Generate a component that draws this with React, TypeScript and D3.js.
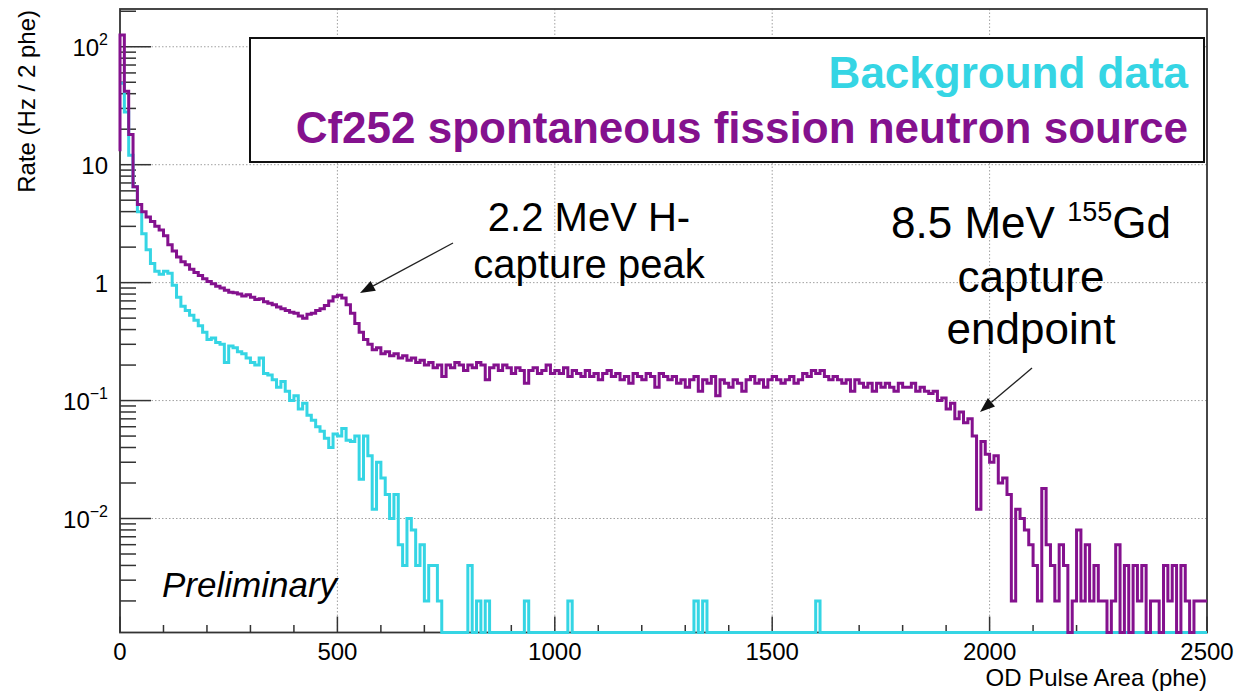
import React from 'react';
import * as d3 from 'd3';

const W = 1239;
const H = 691;

// Axis ranges
const X_DOMAIN = [0, 2500];
const Y_DOMAIN = [1.08e-3, 209];
const BIN_WIDTH = 10;

const xMajorTicks = [0, 500, 1000, 1500, 2000, 2500];
const xTickLabels = ['0', '500', '1000', '1500', '2000', '2500'];
const xGridTicks = [500, 1000, 1500, 2000];
const yMajorTicks = [0.01, 0.1, 1, 10, 100];
const yTickBase = ['10', '10', '1', '10', '10'];
const yTickExp = ['\u22122', '\u22121', '', '', '2'];

// Cf252 source spectrum (rate per 10 phe bin), bins 0..249
const purpleLeadIn = 13;
const purpleValues = [
  126, 42, 18, 6.5, 4.6, 4.0, 3.6, 3.3, 3.0, 2.8,
  2.5, 2.1, 1.85, 1.65, 1.5, 1.42, 1.3, 1.22, 1.15, 1.08,
  1.02, 0.98, 0.93, 0.9, 0.86, 0.83, 0.82, 0.8, 0.77, 0.79,
  0.75, 0.72, 0.73, 0.69, 0.67, 0.65, 0.62, 0.6, 0.58, 0.56,
  0.55, 0.52, 0.5, 0.54, 0.55, 0.58, 0.6, 0.64, 0.7, 0.76,
  0.78, 0.74, 0.65, 0.55, 0.45, 0.38, 0.33, 0.3, 0.27, 0.28,
  0.25, 0.26, 0.24, 0.25, 0.23, 0.24, 0.22, 0.23, 0.21, 0.22,
  0.2, 0.21, 0.19, 0.2, 0.16, 0.2, 0.19, 0.21, 0.2, 0.18,
  0.2, 0.19, 0.21, 0.2, 0.15, 0.19, 0.2, 0.18, 0.2, 0.19,
  0.17, 0.19, 0.18, 0.14, 0.18, 0.19, 0.17, 0.18, 0.2, 0.17,
  0.18, 0.17, 0.19, 0.16, 0.18, 0.17, 0.16, 0.18, 0.16, 0.17,
  0.15, 0.17, 0.18, 0.16, 0.17, 0.15, 0.16, 0.14, 0.17, 0.16,
  0.15, 0.17, 0.16, 0.13, 0.17, 0.16, 0.15, 0.16, 0.14, 0.15,
  0.13, 0.15, 0.16, 0.12, 0.15, 0.14, 0.16, 0.11, 0.15, 0.14,
  0.13, 0.15, 0.14, 0.12, 0.15, 0.16, 0.14, 0.15, 0.13, 0.15,
  0.16, 0.15, 0.14, 0.15, 0.16, 0.14, 0.15, 0.17, 0.16, 0.18,
  0.17, 0.18, 0.16, 0.15, 0.16, 0.15, 0.14, 0.15, 0.12, 0.15,
  0.14, 0.13, 0.14, 0.12, 0.14, 0.13, 0.14, 0.13, 0.12, 0.14,
  0.13, 0.13, 0.14, 0.12, 0.13, 0.12, 0.115, 0.12, 0.1, 0.105,
  0.085, 0.095, 0.07, 0.08, 0.065, 0.07, 0.05, 0.012, 0.045, 0.035,
  0.03, 0.034, 0.02, 0.022, 0.016, 0.002, 0.012, 0.01, 0.008, 0.006,
  0.004, 0.002, 0.018, 0.006, 0.004, 0.002, 0.006, 0.004, 0, 0.002,
  0.008, 0.002, 0.006, 0.002, 0.004, 0.002, 0.002, 0, 0.002, 0.006,
  0, 0.004, 0, 0.004, 0.002, 0.004, 0, 0.002, 0.002, 0,
  0.004, 0.002, 0.004, 0, 0.004, 0.002, 0, 0.002, 0.002, 0.002,
];

// Background spectrum, bins 0..73, then sparse single-count bins
const cyanValues = [
  49, 28, 12, 6.5, 4.0, 2.6, 1.9, 1.45, 1.25, 1.18,
  1.25, 1.2, 0.95, 0.75, 0.63, 0.58, 0.53, 0.48, 0.43, 0.38,
  0.33, 0.34, 0.31, 0.3, 0.21, 0.29, 0.28, 0.26, 0.25, 0.23,
  0.21, 0.2, 0.23, 0.17, 0.165, 0.15, 0.13, 0.145, 0.12, 0.1,
  0.11, 0.085, 0.095, 0.075, 0.068, 0.06, 0.055, 0.048, 0.04, 0.052,
  0.05, 0.058, 0.046, 0.045, 0.05, 0.0215, 0.05, 0.034, 0.012, 0.03,
  0.022, 0.016, 0.01, 0.016, 0.006, 0.004, 0.01, 0.008, 0.004, 0.006,
  0.002, 0.004, 0.004, 0.002,
];
const cyanTailBins = [80, 82, 84, 93, 103, 132, 134, 160];
const cyanTailValues = [0.004, 0.002, 0.002, 0.002, 0.002, 0.002, 0.002, 0.002];
const N_BINS = 250;

const PURPLE = '#84118e';
const CYAN = '#35d5e4';
const FONT = '"Liberation Sans", Arial, Helvetica, sans-serif';

const L = 120, R = 1207, T = 9, B = 632.5;

export default function App() {
  const x = d3.scaleLinear().domain(X_DOMAIN).range([L, R]);
  const y = d3.scaleLog().domain(Y_DOMAIN).range([B, T]).clamp(true);
  const yv = (v: number) => (v > 0 ? y(v) : B);

  const cyanFull: number[] = Array.from({ length: N_BINS }, (_, i) => (i < cyanValues.length ? cyanValues[i] : 0));
  cyanTailBins.forEach((b, k) => { cyanFull[b] = cyanTailValues[k]; });

  const histPath = (vals: number[], lead?: number) => {
    const p = d3.path();
    p.moveTo(x(0), yv(lead !== undefined ? lead : vals[0]));
    vals.forEach((v, i) => {
      p.lineTo(x(i * BIN_WIDTH), yv(v));
      p.lineTo(x((i + 1) * BIN_WIDTH), yv(v));
    });
    return p.toString();
  };

  // minor ticks
  const yMinor: number[] = [];
  for (let k = -3; k <= 2; k++) {
    for (let m = 2; m <= 9; m++) {
      const v = m * Math.pow(10, k);
      if (v >= Y_DOMAIN[0] && v <= Y_DOMAIN[1]) yMinor.push(v);
    }
  }
  const xMinor: number[] = d3.range(100, 2500, 100).filter((v) => v % 500 !== 0);

  const arrow = (x1: number, y1: number, x2: number, y2: number) => {
    const ang = Math.atan2(y2 - y1, x2 - x1);
    const len = 15, hw = 5.5;
    const bx = x2 - len * Math.cos(ang), by = y2 - len * Math.sin(ang);
    const px = -Math.sin(ang) * hw, py = Math.cos(ang) * hw;
    return (
      <g>
        <line x1={x1} y1={y1} x2={bx} y2={by} stroke="#222" strokeWidth={1.3} />
        <polygon points={`${x2},${y2} ${bx + px},${by + py} ${bx - px},${by - py}`} fill="#111" />
      </g>
    );
  };

  return (
    <svg width={W} height={H} style={{ position: 'absolute', left: 0, top: 0, background: '#fff' }} fontFamily={FONT}>
      {/* grid */}
      <g stroke="#a0a0a0" strokeWidth={1} strokeDasharray="1.5 2">
        {xGridTicks.map((v) => (
          <line key={'gx' + v} x1={x(v)} x2={x(v)} y1={T} y2={B} />
        ))}
        {yMajorTicks.map((v) => (
          <line key={'gy' + v} x1={L} x2={R} y1={y(v)} y2={y(v)} />
        ))}
      </g>

      {/* ticks */}
      <g stroke="#333" strokeWidth={1.5}>
        {yMajorTicks.map((v) => (
          <line key={'ty' + v} x1={L} x2={L + 31} y1={y(v)} y2={y(v)} />
        ))}
        {yMinor.map((v) => (
          <line key={'tym' + v} x1={L} x2={L + 16} y1={y(v)} y2={y(v)} />
        ))}
        {xMajorTicks.map((v) => (
          <line key={'tx' + v} x1={x(v)} x2={x(v)} y1={B} y2={B - 16} />
        ))}
        {xMinor.map((v) => (
          <line key={'txm' + v} x1={x(v)} x2={x(v)} y1={B} y2={B - 7.5} />
        ))}
      </g>

      {/* frame */}
      <rect x={L} y={T} width={R - L} height={B - T} fill="none" stroke="#333" strokeWidth={1.8} />

      {/* histograms */}
      <path d={histPath(cyanFull)} fill="none" stroke={CYAN} strokeWidth={3} strokeLinejoin="miter" />
      <path d={histPath(purpleValues, purpleLeadIn)} fill="none" stroke={PURPLE} strokeWidth={3} strokeLinejoin="miter" />

      {/* legend */}
      <rect x={250} y={38} width={954} height={124} fill="#fff" stroke="#111" strokeWidth={2} />
      <text x={1188} y={88} textAnchor="end" fontSize={44} fontWeight="bold" fill={CYAN}>Background data</text>
      <text x={1188} y={143} textAnchor="end" fontSize={44} fontWeight="bold" fill={PURPLE}>Cf252 spontaneous fission neutron source</text>

      {/* annotations */}
      <text x={589} y={231} textAnchor="middle" fontSize={40} fill="#000">2.2 MeV H-</text>
      <text x={589} y={278} textAnchor="middle" fontSize={40} fill="#000">capture peak</text>
      {arrow(453, 243, 360, 293)}

      <text x={1031} y={238} textAnchor="middle" fontSize={44} fill="#000">
        8.5 MeV <tspan fontSize={27} dy={-17}>155</tspan><tspan fontSize={44} dy={17}>Gd</tspan>
      </text>
      <text x={1031} y={292} textAnchor="middle" fontSize={44} fill="#000">capture</text>
      <text x={1031} y={344} textAnchor="middle" fontSize={44} fill="#000">endpoint</text>
      {arrow(1032, 368, 980, 412)}

      <text x={162} y={597} fontSize={35} fontStyle="italic" fill="#000">Preliminary</text>

      {/* y tick labels */}
      {yMajorTicks.map((v, i) => (
        <text key={'yl' + v} x={108} y={y(v) + 9} textAnchor="end" fontSize={24} fill="#000">
          {yTickBase[i]}
          {yTickExp[i] ? <tspan fontSize={16} dy={-11}>{yTickExp[i]}</tspan> : null}
        </text>
      ))}

      {/* x tick labels */}
      {xMajorTicks.map((v, i) => (
        <text key={'xl' + v} x={x(v)} y={660} textAnchor="middle" fontSize={24} fill="#000">{xTickLabels[i]}</text>
      ))}

      {/* axis titles */}
      <text x={R} y={686} textAnchor="end" fontSize={24} fill="#000">OD Pulse Area (phe)</text>
      <text transform="translate(35,10) rotate(-90)" textAnchor="end" fontSize={24} fill="#000">Rate (Hz / 2 phe)</text>
    </svg>
  );
}
